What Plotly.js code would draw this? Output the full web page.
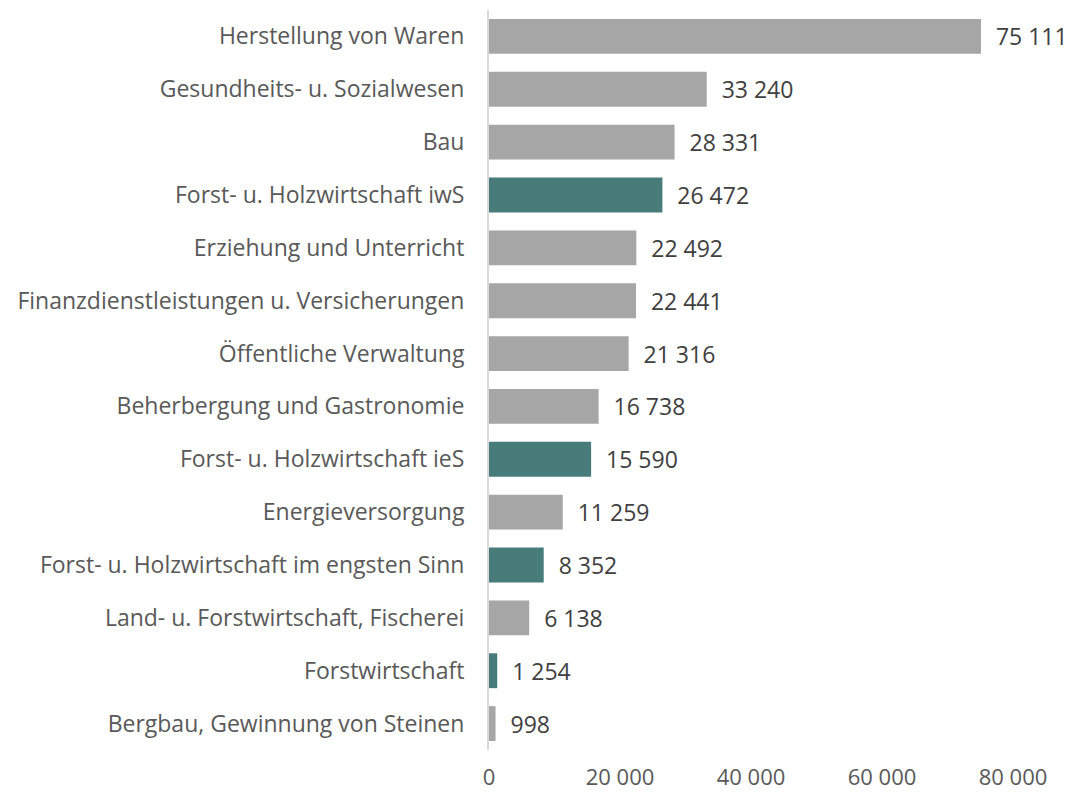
<!DOCTYPE html>
<html><head><meta charset="utf-8">
<script src="https://cdn.plot.ly/plotly-3.0.1.min.js"></script>
<style>html,body{margin:0;padding:0;background:#fff;}#chart{width:1074px;height:796px;}</style>
</head><body><div id="chart"></div>
<script>
const categories = [
  "Herstellung von Waren",
  "Gesundheits- u. Sozialwesen",
  "Bau",
  "Forst- u. Holzwirtschaft iwS",
  "Erziehung und Unterricht",
  "Finanzdienstleistungen u. Versicherungen",
  "Öffentliche Verwaltung",
  "Beherbergung und Gastronomie",
  "Forst- u. Holzwirtschaft ieS",
  "Energieversorgung",
  "Forst- u. Holzwirtschaft im engsten Sinn",
  "Land- u. Forstwirtschaft, Fischerei",
  "Forstwirtschaft",
  "Bergbau, Gewinnung von Steinen"
];
const values = [75111, 33240, 28331, 26472, 22492, 22441, 21316, 16738, 15590, 11259, 8352, 6138, 1254, 998];
const highlight = [false, false, false, true, false, false, false, false, true, false, true, false, true, false];
const tickValues = [0, 20000, 40000, 60000, 80000];

const fmt = v => String(v).replace(/\B(?=(\d{3})+(?!\d))/g, " ");
const colors = highlight.map(h => h ? "#477c7b" : "#a6a6a6");

Plotly.newPlot("chart", [{
  type: "bar",
  orientation: "h",
  y: categories,
  x: values,
  marker: {color: colors},
  text: values.map(v => "  " + fmt(v)),
  textposition: "outside",
  cliponaxis: false,
  textfont: {family: "Open Sans, sans-serif", size: 23, color: "#404040"},
  hoverinfo: "skip"
}], {
  width: 1074, height: 796,
  margin: {l: 489, r: 61, t: 10, b: 46},
  paper_bgcolor: "#fff", plot_bgcolor: "#fff",
  bargap: 0.34,
  showlegend: false,
  font: {family: "Open Sans, sans-serif", color: "#595959"},
  xaxis: {
    range: [0, 80000], tickvals: tickValues, ticktext: tickValues.map(fmt),
    showgrid: false, zeroline: false, showline: false,
    ticks: "", tickfont: {size: 22, color: "#595959"}, ticklabelstandoff: 12
  },
  yaxis: {
    autorange: "reversed", type: "category",
    showline: true, linecolor: "#d9d9d9", linewidth: 2,
    showgrid: false, zeroline: false, ticks: "",
    ticklabelstandoff: 18,
    tickfont: {size: 23, color: "#595959"}
  }
}, {displayModeBar: false, staticPlot: true});
</script></body></html>
